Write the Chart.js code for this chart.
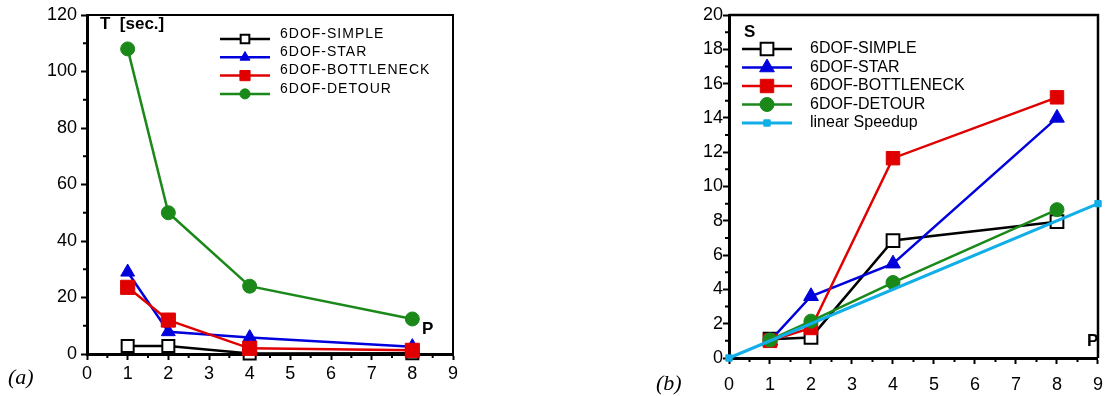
<!DOCTYPE html>
<html>
<head>
<meta charset="utf-8">
<script src="https://cdn.jsdelivr.net/npm/chart.js@4.4.0/dist/chart.umd.min.js"></script>
<style>
body { margin: 0; background: #fff; width: 1113px; height: 396px; position: relative; overflow: hidden; }
.box { position: absolute; top: 0; height: 396px; }
#boxA { left: 0; width: 470px; }
#boxB { left: 640px; width: 473px; }
.tag { position: absolute; font: italic 22px "Liberation Serif", "Times New Roman", serif; color: #000; }
</style>
</head>
<body>
<div class="box" id="boxA"><canvas id="chartA"></canvas></div>
<div class="box" id="boxB"><canvas id="chartB"></canvas></div>
<div class="tag" style="left:8px;top:364px">(a)</div>
<div class="tag" style="left:656px;top:370px">(b)</div>
<script>
// processors used in the runs
const procs = [1, 2, 4, 8];

// (a) run time in seconds
const timeSimple = [2.8, 2.8, 0.2, 0.3];
const timeStar = [29, 7.9, 5.8, 2.6];
const timeBottleneck = [23.6, 12, 2, 1.3];
const timeDetour = [108, 50, 24, 12.4];

// (b) speedup
const speedSimple = [1.1, 1.2, 6.85, 7.95];
const speedStar = [1.0, 3.6, 5.5, 14.0];
const speedBottleneck = [1.0, 1.75, 11.65, 15.2];
const speedDetour = [1.05, 2.15, 4.4, 8.65];
const linearProcs = [0, 9];
const linearSpeed = [0, 9];

const labels = ['6DOF-SIMPLE', '6DOF-STAR', '6DOF-BOTTLENECK', '6DOF-DETOUR', 'linear Speedup'];

const FONT = '"Liberation Sans", Arial, sans-serif';
const BLACK = '#000000';
const BLUE = '#0000dd';
const RED = '#e00000';
const GREEN = '#1a891a';
const CYAN = '#12aee8';

const series = (label, xs, ys, color, style, radius, fill, order, width) => ({
    label: label,
    data: xs.map((x, i) => ({ x: x, y: ys[i] })),
    borderColor: color,
    backgroundColor: fill || color,
    borderWidth: width || 2.5,
    pointStyle: style,
    pointRadius: radius,
    pointHoverRadius: radius,
    pointBorderColor: color,
    pointBackgroundColor: fill || color,
    pointBorderWidth: fill ? 2 : 1,
    order: order,
    clip: false,
    tension: 0
});

// frame, minor ticks, legend and axis captions
const decor = {
    id: 'decor',
    beforeDatasetsDraw(chart, args, opts) {
        const { ctx, chartArea: a, scales: { x, y } } = chart;
        ctx.save();
        ctx.strokeStyle = BLACK;
        ctx.lineWidth = opts.frameWidth;
        ctx.beginPath();
        ctx.moveTo(a.left, a.top);
        ctx.lineTo(a.right, a.top);
        ctx.lineTo(a.right, a.bottom);
        ctx.stroke();

        ctx.lineWidth = 2;
        ctx.beginPath();
        for (let v = opts.xMinor; v < x.max; v += opts.xMinor * 2) {
            const px = x.getPixelForValue(v);
            ctx.moveTo(px, a.bottom);
            ctx.lineTo(px, a.bottom + 4);
        }
        for (let v = opts.yMinor; v < y.max; v += opts.yMinor * 2) {
            const py = y.getPixelForValue(v);
            ctx.moveTo(a.left, py);
            ctx.lineTo(a.left - 4, py);
        }
        ctx.stroke();
        ctx.restore();
    },
    afterDatasetsDraw(chart, args, opts) {
        const { ctx } = chart;
        const lg = opts.legend;
        ctx.save();
        chart.data.datasets.forEach((ds, i) => {
            const ly = lg.y + i * lg.step;
            ctx.strokeStyle = ds.borderColor;
            ctx.lineWidth = ds.borderWidth;
            ctx.beginPath();
            ctx.moveTo(lg.x, ly);
            ctx.lineTo(lg.x + lg.len, ly);
            ctx.stroke();
            ctx.fillStyle = ds.pointBackgroundColor;
            ctx.strokeStyle = ds.pointBorderColor;
            ctx.lineWidth = ds.pointBorderWidth;
            Chart.helpers.drawPoint(ctx, {
                pointStyle: ds.pointStyle,
                radius: ds.pointRadius * lg.scale,
                borderWidth: ds.pointBorderWidth,
                rotation: 0
            }, lg.x + lg.len / 2, ly);
            ctx.fillStyle = BLACK;
            ctx.font = lg.font;
            ctx.letterSpacing = lg.spacing;
            ctx.textBaseline = 'middle';
            ctx.textAlign = 'left';
            ctx.fillText(ds.label, lg.textX, ly + lg.textDy);
        });
        ctx.letterSpacing = '0px';
        ctx.font = 'bold 17px ' + FONT;
        ctx.textBaseline = 'middle';
        opts.captions.forEach(c => ctx.fillText(c.text, c.x, c.y));
        ctx.restore();
    }
};

const axis = (max, step, fit, pad) => ({
    type: 'linear',
    min: 0,
    max: max,
    ticks: { stepSize: step, color: BLACK, font: { family: FONT, size: 18 }, padding: pad },
    grid: { drawOnChartArea: false, tickLength: 6, tickColor: BLACK, tickWidth: 2 },
    border: { display: true, color: BLACK, width: 3 },
    afterFit: fit
});

const makeChart = (id, datasets, yMax, yStep, layout, decorOpts) => new Chart(document.getElementById(id), {
    type: 'line',
    data: { datasets: datasets },
    options: {
        responsive: true,
        maintainAspectRatio: false,
        animation: false,
        layout: { padding: { top: layout.top, right: layout.right, left: 0, bottom: 0 } },
        plugins: { legend: { display: false }, tooltip: { enabled: false }, decor: decorOpts },
        scales: {
            x: axis(9, 1, s => { s.height = layout.xHeight; }, layout.xPad),
            y: axis(yMax, yStep, s => { s.width = layout.yWidth; }, layout.yPad)
        }
    },
    plugins: [decor]
});

makeChart('chartA', [
    series(labels[0], procs, timeSimple, BLACK, 'rect', 8.5, '#ffffff', 2),
    series(labels[1], procs, timeStar, BLUE, 'triangle', 8, null, 1),
    series(labels[2], procs, timeBottleneck, RED, 'rect', 10, null, 0),
    series(labels[3], procs, timeDetour, GREEN, 'circle', 7, null, 3)
], 120, 20,
    { top: 15, right: 17, xHeight: 42, yWidth: 87, xPad: 3, yPad: 4 },
    {
        frameWidth: 2, xMinor: 0.5, yMinor: 10,
        legend: { x: 220, len: 50, y: 39, step: 18.3, scale: 0.72, textX: 280, textDy: -5, font: '14px ' + FONT, spacing: '1px' },
        captions: [{ text: 'T  [sec.]', x: 100, y: 24 }, { text: 'P', x: 422, y: 329 }]
    });

makeChart('chartB', [
    series(labels[0], procs, speedSimple, BLACK, 'rect', 9, '#ffffff', 4),
    series(labels[1], procs, speedStar, BLUE, 'triangle', 8.5, null, 3),
    series(labels[2], procs, speedBottleneck, RED, 'rect', 9.5, null, 2),
    series(labels[3], procs, speedDetour, GREEN, 'circle', 7, null, 1),
    series(labels[4], linearProcs, linearSpeed, CYAN, 'rect', 4.5, null, 0, 3)
], 20, 2,
    { top: 15, right: 11, xHeight: 38, yWidth: 89, xPad: 10, yPad: 0 },
    {
        frameWidth: 2.5, xMinor: 0.5, yMinor: 1,
        legend: { x: 102, len: 50, y: 49, step: 18.5, scale: 1, textX: 170, textDy: 0, font: '16px ' + FONT, spacing: '0px' },
        captions: [{ text: 'S', x: 104, y: 32 }, { text: 'P', x: 447, y: 341 }]
    });
</script>
</body>
</html>
